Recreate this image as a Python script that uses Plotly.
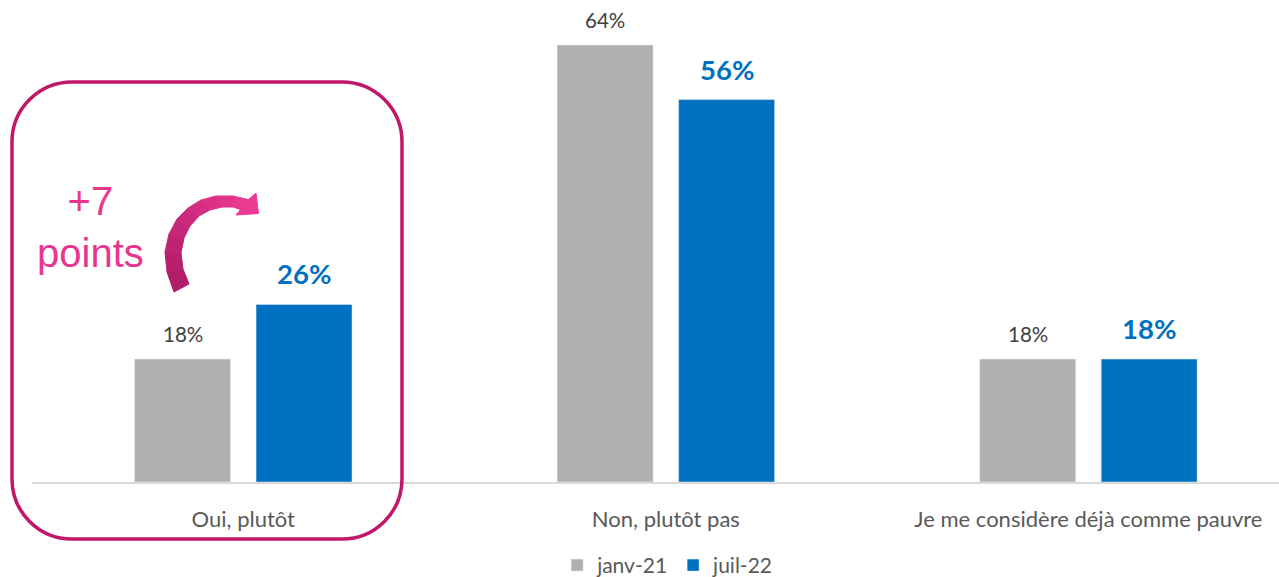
import plotly.graph_objects as go

# ---- data -------------------------------------------------------------
categories = ["Oui, plutôt", "Non, plutôt pas", "Je me considère déjà comme pauvre"]
series_names = ["janv-21", "juil-22"]
janv_21 = [18, 64, 18]
juil_22 = [26, 56, 18]
highlight_text = "+7<br>points"

# ---- layout constants -------------------------------------------------
W, H = 1279, 577
M_L, M_R, M_T, M_B = 32, 0, 4, 95
X_RANGE = [-0.5, 2.451]
Y_RANGE = [0, 70]
BARGAP = 0.425
BARGROUPGAP = 0.21

GREY = "#b0b0b1"
BLUE = "#0070c0"
PINK = "#e8368f"
FRAME = "#c2166b"
FONT = "Lato"

x_pos = list(range(len(categories)))
slot = (1 - BARGAP) / 2          # width of one bar slot in axis units
offsets = [-slot / 2, slot / 2]  # centre of each series inside a group

plot_w = W - M_L - M_R
plot_h = H - M_T - M_B


def to_paper(px, py):
    """Convert a screen pixel position to paper coordinates."""
    return (px - M_L) / plot_w, (H - M_B - py) / plot_h


def mix(c0, c1, t):
    a = [int(c0[i:i + 2], 16) for i in (1, 3, 5)]
    b = [int(c1[i:i + 2], 16) for i in (1, 3, 5)]
    return "#" + "".join(f"{round(x + (y - x) * t):02x}" for x, y in zip(a, b))


def poly_path(points_px):
    pts = [to_paper(px, py) for px, py in points_px]
    return "M " + " L ".join(f"{a},{b}" for a, b in pts) + " Z"


fig = go.Figure()
fig.add_trace(go.Bar(x=x_pos, y=janv_21, name=series_names[0],
                     marker_color=GREY, hoverinfo="skip"))
fig.add_trace(go.Bar(x=x_pos, y=juil_22, name=series_names[1],
                     marker_color=BLUE, hoverinfo="skip"))

annotations = []
# value labels above the bars
for xi, v in zip(x_pos, janv_21):
    annotations.append(dict(
        x=xi + offsets[0], y=v, xref="x", yref="y", text=f"{v}%",
        showarrow=False, yanchor="bottom", yshift=11,
        font=dict(family=FONT, size=20.5, color="#404040")))
for xi, v in zip(x_pos, juil_22):
    annotations.append(dict(
        x=xi + offsets[1], y=v, xref="x", yref="y", text=f"<b>{v}%</b>",
        showarrow=False, yanchor="bottom", yshift=12,
        font=dict(family=FONT, size=27.5, color=BLUE)))

# "+7 points" callout text
tx, ty = to_paper(90, 227)
annotations.append(dict(
    x=tx, y=ty, xref="paper", yref="paper", text=highlight_text,
    showarrow=False, xanchor="center", yanchor="middle",
    font=dict(family="Liberation Sans", size=40, color=PINK)))

shapes = []

# rounded frame around the first group
left, right, top, bottom, r = 12, 402, 82, 539, 60
x0, y_top = to_paper(left, top)
x1, y_bot = to_paper(right, bottom)
rx = r / plot_w
ry = r / plot_h
k = 0.4477  # bezier handle factor for a quarter circle
frame_path = (
    f"M {x0 + rx},{y_top} L {x1 - rx},{y_top} "
    f"C {x1 - rx * k},{y_top} {x1},{y_top - ry * k} {x1},{y_top - ry} "
    f"L {x1},{y_bot + ry} "
    f"C {x1},{y_bot + ry * k} {x1 - rx * k},{y_bot} {x1 - rx},{y_bot} "
    f"L {x0 + rx},{y_bot} "
    f"C {x0 + rx * k},{y_bot} {x0},{y_bot + ry * k} {x0},{y_bot + ry} "
    f"L {x0},{y_top - ry} "
    f"C {x0},{y_top - ry * k} {x0 + rx * k},{y_top} {x0 + rx},{y_top} Z"
)
shapes.append(dict(type="path", xref="paper", yref="paper", path=frame_path,
                   line=dict(color=FRAME, width=3.5), fillcolor="rgba(0,0,0,0)",
                   layer="above"))

# curved arrow, drawn as short quads so the colour shades along the curve
outer_edge = [(174, 292), (167, 272), (165, 252), (169, 234), (177, 219),
              (188, 208), (201, 200), (216, 196), (233, 196), (250, 200)]
inner_edge = [(189, 284), (183, 269), (181, 253), (184, 238), (190, 226),
              (199, 216), (210, 210), (222, 207), (233, 207), (242, 210)]
dark, light = "#ae1b66", "#ec3a93"
n = len(outer_edge) - 1
for i in range(n):
    col = mix(dark, light, (i + 0.5) / n)
    quad = [outer_edge[i], outer_edge[i + 1], inner_edge[i + 1], inner_edge[i]]
    shapes.append(dict(type="path", xref="paper", yref="paper",
                       path=poly_path(quad), line=dict(color=col, width=1),
                       fillcolor=col, layer="above"))
head = [(248, 200), (256, 193), (258.5, 213.5), (236, 215), (241, 209)]
shapes.append(dict(type="path", xref="paper", yref="paper",
                   path=poly_path(head), line=dict(color=light, width=1),
                   fillcolor=light, layer="above"))

fig.update_layout(
    width=W, height=H,
    margin=dict(l=M_L, r=M_R, t=M_T, b=M_B, pad=0),
    paper_bgcolor="white", plot_bgcolor="white",
    barmode="group", bargap=BARGAP, bargroupgap=BARGROUPGAP,
    showlegend=True,
    legend=dict(orientation="h", xref="container", yref="container",
                x=0.522, y=0.02, xanchor="center", yanchor="middle",
                font=dict(family=FONT, size=21, color="#595959"),
                bgcolor="rgba(0,0,0,0)"),
    xaxis=dict(range=X_RANGE, tickvals=x_pos, ticktext=categories,
               showgrid=False, zeroline=False, showline=True,
               linecolor="#d9d9d9", linewidth=2, ticks="",
               ticklabelstandoff=17,
               tickfont=dict(family=FONT, size=22, color="#595959")),
    yaxis=dict(range=Y_RANGE, visible=False, showgrid=False, zeroline=False),
    annotations=annotations,
    shapes=shapes,
)

fig.write_html("out.html")
